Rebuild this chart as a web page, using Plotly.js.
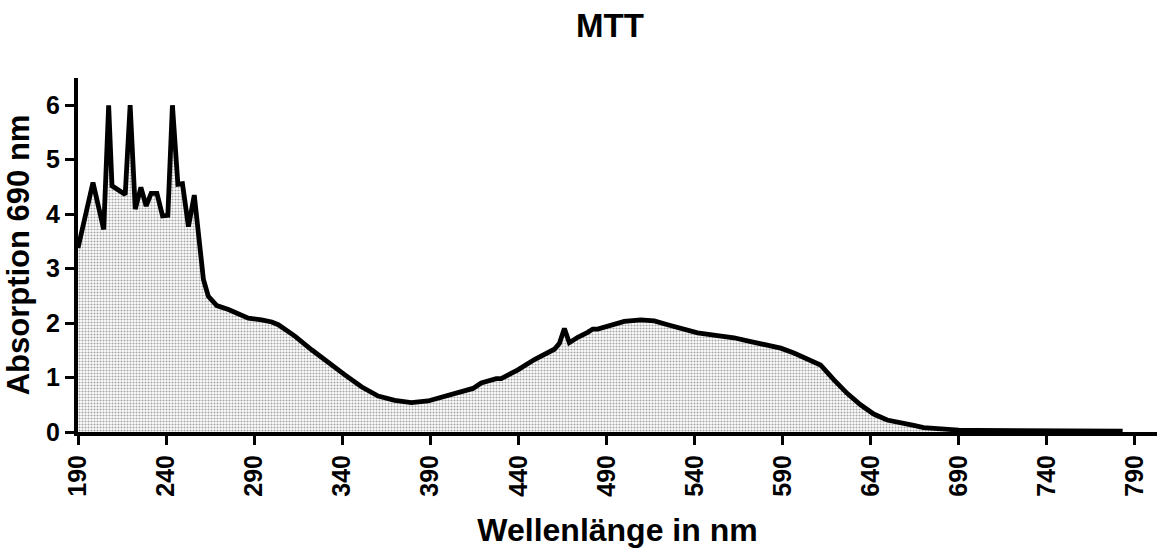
<!DOCTYPE html>
<html>
<head>
<meta charset="utf-8">
<script src="https://cdn.plot.ly/plotly-3.0.1.min.js"></script>
<style>
  html, body { margin: 0; padding: 0; background: #fff; }
  #chart { width: 1161px; height: 553px; }
</style>
</head>
<body>
<div id="chart"></div>
<script>
// Wavelength (nm)
const wavelength = [
  190, 198.5, 204.6, 207.4, 209.3, 216.8, 219.6, 222.5, 225.7, 228.7,
  231.5, 234.8, 238, 241, 243.6, 246.7, 249.3, 252.7, 256, 258.4,
  259.5, 261.2, 264, 268.8, 275.4, 281, 286.7, 294.2, 300, 303.7,
  313.1, 322.6, 332, 341.5, 350.9, 360.4, 369.8, 379.2, 388.7, 398.1,
  407.6, 414.2, 418.9, 427.4, 430.2, 439.7, 449.1, 460.4, 463.3, 466.1,
  468.9, 473.7, 479.3, 482.2, 485, 490.7, 500.1, 509.5, 517.1, 524.7,
  534.1, 541.7, 553, 562.4, 571.9, 581.3, 588.9, 596.4, 604, 607.7,
  611.5, 619, 626.6, 634.2, 641.7, 649.3, 656.8, 664.4, 670, 680,
  690, 700, 720, 750, 783
];
// Absorption at 690 nm
const absorption = [
  3.38, 4.58, 3.72, 6.0, 4.52, 4.36, 6.0, 4.09, 4.49, 4.15,
  4.38, 4.38, 3.97, 3.98, 6.0, 4.55, 4.56, 3.77, 4.35, 3.6,
  3.2, 2.8, 2.49, 2.32, 2.25, 2.17, 2.09, 2.06, 2.02, 1.97,
  1.76, 1.51, 1.27, 1.05, 0.83, 0.66, 0.58, 0.54, 0.57, 0.65,
  0.74, 0.80, 0.90, 0.98, 0.98, 1.14, 1.33, 1.52, 1.63, 1.90,
  1.64, 1.74, 1.83, 1.89, 1.89, 1.95, 2.03, 2.06, 2.04, 1.97,
  1.88, 1.82, 1.77, 1.73, 1.66, 1.60, 1.54, 1.45, 1.33, 1.29,
  1.23, 0.96, 0.71, 0.50, 0.33, 0.22, 0.16, 0.12, 0.08, 0.05,
  0.035, 0.03, 0.025, 0.02, 0.015
];
// Tick labels
const xTicks = [190, 240, 290, 340, 390, 440, 490, 540, 590, 640, 690, 740, 790];
const yTicks = [0, 1, 2, 3, 4, 5, 6];

const fontFam = 'Liberation Sans, Arial, Helvetica, sans-serif';

const trace = {
  x: wavelength,
  y: absorption,
  type: 'scatter',
  mode: 'lines',
  line: { color: '#000', width: 4.8, shape: 'linear' },
  fill: 'tozeroy',
  fillcolor: '#dedede',
  fillpattern: { shape: '.', size: 3, solidity: 0.4, fgcolor: '#a6a6a6', bgcolor: '#ffffff' },
  hoverinfo: 'skip'
};

const layout = {
  width: 1161,
  height: 553,
  margin: { l: 78, r: 4, t: 78, b: 121 },
  paper_bgcolor: '#fff',
  plot_bgcolor: '#fff',
  showlegend: false,
  font: { family: fontFam, color: '#000' },
  title: {
    text: 'MTT',
    font: { family: fontFam, size: 33, weight: 'bold', color: '#000' },
    xref: 'paper', x: 0.493, xanchor: 'center',
    yref: 'container', y: 0.954, yanchor: 'middle'
  },
  xaxis: {
    range: [190, 802.5],
    tickvals: xTicks,
    ticktext: xTicks.map(String),
    tickangle: -90,
    ticks: 'outside', ticklen: 9, tickwidth: 3, tickcolor: '#000',
    tickfont: { family: fontFam, size: 25, weight: 'bold', color: '#000' },
    showline: true, linecolor: '#000', linewidth: 4,
    showgrid: false, zeroline: false,
    title: {
      text: 'Wellenlänge in nm',
      font: { family: fontFam, size: 32, weight: 'bold', color: '#000' },
      standoff: 24
    },
    automargin: false
  },
  yaxis: {
    range: [0, 6.5],
    tickvals: yTicks,
    ticktext: yTicks.map(String),
    ticks: 'outside', ticklen: 9, tickwidth: 3, tickcolor: '#000',
    tickfont: { family: fontFam, size: 25, weight: 'bold', color: '#000' },
    showline: true, linecolor: '#000', linewidth: 4,
    showgrid: false, zeroline: false,
    title: {
      text: 'Absorption 690 nm',
      font: { family: fontFam, size: 31, weight: 'bold', color: '#000' },
      standoff: 8
    },
    automargin: false
  }
};

Plotly.newPlot('chart', [trace], layout, { displayModeBar: false, staticPlot: true });
</script>
</body>
</html>
